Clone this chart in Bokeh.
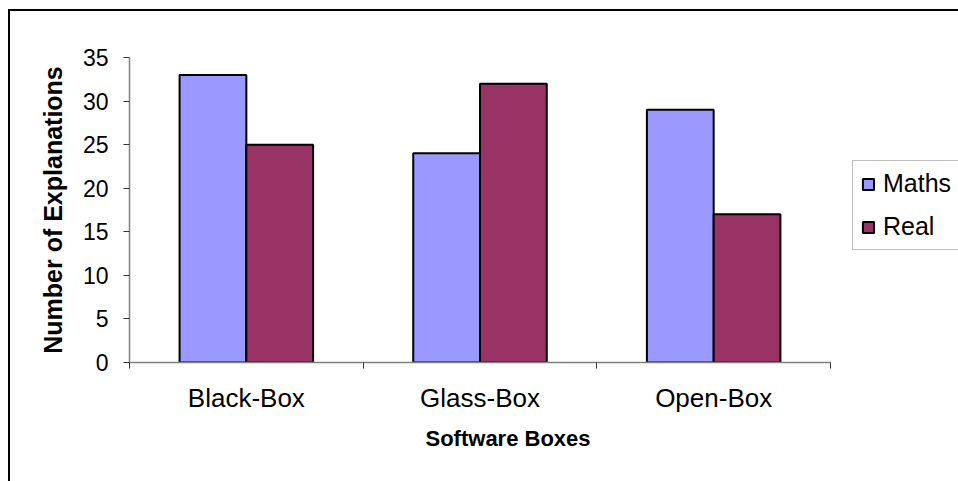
from bokeh.plotting import figure
from bokeh.models import (ColumnDataSource, FixedTicker, Legend, LegendItem, Title)
from bokeh.layouts import column
from bokeh.transform import dodge
from bokeh.embed import file_html
from bokeh.resources import INLINE

# Explanation counts per software box, split by question type
categories = ["Black-Box", "Glass-Box", "Open-Box"]
maths = [33, 24, 29]
real = [25, 32, 17]
y_ticks = [0, 5, 10, 15, 20, 25, 30, 35]

FONT = "Liberation Sans"
MATHS_COLOR = "#9999FF"
REAL_COLOR = "#993366"
BAR_W = 1 / 3.5  # two bars per group, 150% gap

n = len(categories)
centers = [i + 0.5 for i in range(n)]
source = ColumnDataSource(data=dict(x=centers, maths=maths, real=real, cat=categories))

# the plot frame runs to the right edge so the legend can sit beside the bars;
# the category axis itself is bounded to the groups
PLOT_W, PLOT_H = 948, 470
LEFT, TOP, BOTTOM = 119, 46, 119
AXIS_PX = 701
x_end = n * (PLOT_W - LEFT) / AXIS_PX

p = figure(width=PLOT_W, height=PLOT_H, x_range=(0, x_end), y_range=(0, 35),
           output_backend="svg", toolbar_location=None,
           min_border_left=LEFT, min_border_right=0,
           min_border_top=TOP, min_border_bottom=BOTTOM)

p.background_fill_color = "white"
p.border_fill_color = "white"
p.outline_line_color = None
p.grid.grid_line_color = None

r_maths = p.vbar(x=dodge("x", -BAR_W / 2, range=p.x_range), top="maths", width=BAR_W,
                 source=source, fill_color=MATHS_COLOR, line_color="black", line_width=2)
r_real = p.vbar(x=dodge("x", BAR_W / 2, range=p.x_range), top="real", width=BAR_W,
                source=source, fill_color=REAL_COLOR, line_color="black", line_width=2)

# x axis: category names at group centres, ticks at group boundaries
xa = p.xaxis[0]
xa.bounds = (0, n)
xa.ticker = FixedTicker(ticks=centers, minor_ticks=list(range(n + 1)))
xa.major_label_overrides = {c: name for c, name in zip(centers, categories)}
xa.major_tick_out = 0
xa.major_tick_in = 0
xa.minor_tick_out = 6
xa.minor_tick_in = 0
xa.minor_tick_line_color = "#333333"
xa.axis_line_color = "#808080"
xa.axis_line_width = 1.5
xa.major_label_text_font = FONT
xa.major_label_text_font_size = "26px"
xa.major_label_text_color = "black"
xa.major_label_standoff = 14

ya = p.yaxis[0]
ya.ticker = FixedTicker(ticks=y_ticks)
ya.minor_tick_line_color = None
ya.major_tick_out = 6
ya.major_tick_in = 0
ya.major_tick_line_color = "#333333"
ya.axis_line_color = "#808080"
ya.axis_line_width = 1.5
ya.major_label_text_font = FONT
ya.major_label_text_font_size = "23px"
ya.major_label_text_color = "black"
ya.major_label_standoff = 15
ya.axis_label = "Number of Explanations"
ya.axis_label_text_font = FONT
ya.axis_label_text_font_size = "25px"
ya.axis_label_text_font_style = "bold"
ya.axis_label_text_color = "black"
ya.axis_label_standoff = 13

x_title = Title(text="Software Boxes", align="left", offset=296, standoff=17,
                text_font=FONT, text_font_size="22px", text_font_style="bold",
                text_color="black")
p.add_layout(x_title, "below")

legend = Legend(items=[LegendItem(label="Maths", renderers=[r_maths]),
                       LegendItem(label="Real", renderers=[r_real])],
                location=(AXIS_PX + 22, 112), orientation="vertical",
                glyph_width=14, glyph_height=14, label_standoff=8,
                padding=8, spacing=14, margin=0,
                label_text_font=FONT, label_text_font_size="25px",
                label_text_color="black",
                border_line_color="#808080", border_line_width=1,
                background_fill_color="white", background_fill_alpha=1)
p.add_layout(legend, "center")

# chart area border (left and top edges)
chart = column(p, styles={"margin-left": "8px", "margin-top": "9px",
                          "border-left": "2px solid black",
                          "border-top": "2px solid black"})

open("out.html", "w").write(file_html(chart, INLINE))
